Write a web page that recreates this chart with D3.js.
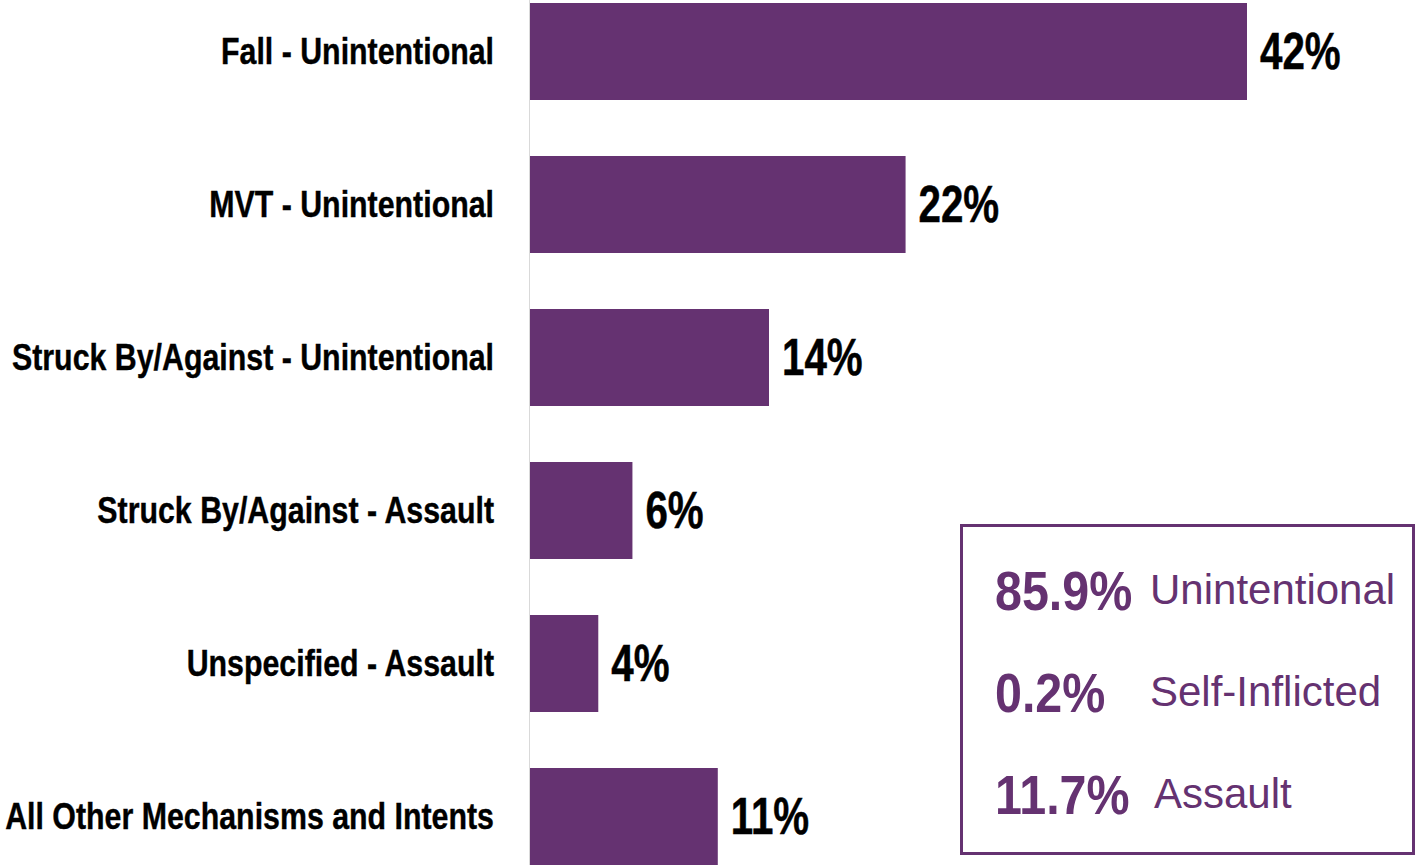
<!DOCTYPE html>
<html>
<head>
<meta charset="utf-8">
<script src="https://cdn.jsdelivr.net/npm/d3@7"></script>
<style>
  html, body { margin: 0; padding: 0; background: #ffffff; }
  svg { display: block; }
</style>
</head>
<body>
<svg id="chart" width="1416" height="865"></svg>
<script>
// Injury mechanism and intent shares
const categories = [
  "Fall - Unintentional",
  "MVT - Unintentional",
  "Struck By/Against - Unintentional",
  "Struck By/Against - Assault",
  "Unspecified - Assault",
  "All Other Mechanisms and Intents"
];
const shares = [42, 22, 14, 6, 4, 11];

// Summary by intent
const intentValues = ["85.9%", "0.2%", "11.7%"];
const intentNames = ["Unintentional", "Self-Inflicted", "Assault"];

const purple = "#653271";
const font = "'Liberation Sans', Arial, sans-serif";
const svg = d3.select("#chart");

const x = d3.scaleLinear().domain([0, 42]).range([530, 1247]);
const y = d3.scaleBand()
  .domain(categories)
  .range([-25, 893])
  .paddingInner(0.366)
  .paddingOuter(0.183);

// baseline axis
svg.append("line")
  .attr("x1", 529.5).attr("x2", 529.5)
  .attr("y1", 0).attr("y2", 865)
  .attr("stroke", "#d9d9d9").attr("stroke-width", 1);

const rows = categories.map((c, i) => ({ cat: c, v: shares[i] }));

svg.selectAll("rect.bar").data(rows).join("rect")
  .attr("class", "bar")
  .attr("x", x(0))
  .attr("y", d => y(d.cat))
  .attr("width", d => x(d.v) - x(0))
  .attr("height", y.bandwidth())
  .attr("fill", purple);

// category labels: bold, horizontally condensed
svg.selectAll("text.cat").data(rows).join("text")
  .attr("class", "cat")
  .attr("transform", d => `translate(494,${y(d.cat) + y.bandwidth() / 2}) scale(0.82,1)`)
  .attr("dy", "0.33em")
  .attr("text-anchor", "end")
  .attr("font-family", font)
  .attr("font-weight", "bold")
  .attr("font-size", 37)
  .attr("stroke", "#000")
  .attr("stroke-width", 0.4)
  .attr("fill", "#000")
  .text(d => d.cat);

// value labels at the bar ends
svg.selectAll("text.val").data(rows).join("text")
  .attr("class", "val")
  .attr("transform", d => `translate(${x(d.v) + 13},${y(d.cat) + y.bandwidth() / 2}) scale(0.79,1)`)
  .attr("dy", "0.35em")
  .attr("font-family", font)
  .attr("font-weight", "bold")
  .attr("font-size", 51)
  .attr("stroke", "#000")
  .attr("stroke-width", 0.5)
  .attr("fill", "#000")
  .text(d => d.v + "%");

// intent summary box
svg.append("rect")
  .attr("x", 961.5).attr("y", 525.5)
  .attr("width", 452).attr("height", 328)
  .attr("fill", "#fff")
  .attr("stroke", purple).attr("stroke-width", 3);

const rowBase = [610, 712, 814];
const nameX = [1150, 1150, 1154];

intentValues.forEach((v, i) => {
  svg.append("text")
    .attr("transform", `translate(995,${rowBase[i]}) scale(0.88,1)`)
    .attr("font-family", font)
    .attr("font-weight", "bold")
    .attr("font-size", 55)
    .attr("fill", purple)
    .text(v);
  svg.append("text")
    .attr("x", nameX[i])
    .attr("y", rowBase[i] - 6)
    .attr("font-family", font)
    .attr("font-size", 42)
    .attr("fill", purple)
    .text(intentNames[i]);
});
</script>
</body>
</html>
